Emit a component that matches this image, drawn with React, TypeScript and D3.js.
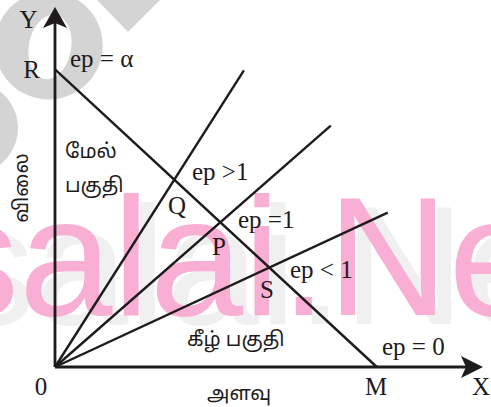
import React from "react";
import * as d3 from "d3";

const W = 491;
const H = 407;

// axis extents in data units
const xDomain = [0, 13.3];
const yDomain = [0, 12.1];

// demand line R -> M
const pointR = [0, 10];
const pointM = [10, 0];

// rays from origin (end points)
const rayEnds = [
  [5.87, 9.97],
  [8.57, 8.11],
  [10.34, 5.19],
];

// latin labels [text, x, y, anchor]
const serifLabels: [string, number, number, string][] = [
  ["Y", -0.823, 11.4, "middle"],
  ["R", -0.73, 9.71, "middle"],
  ["ep = \u03b1", 0.466, 10.08, "start"],
  ["ep >1", 4.257, 6.286, "start"],
  ["Q", 3.791, 5.143, "middle"],
  ["ep =1", 5.687, 4.672, "start"],
  ["P", 4.879, 3.765, "start"],
  ["ep < 1", 7.303, 2.992, "start"],
  ["S", 6.37, 2.319, "start"],
  ["ep = 0", 10.162, 0.403, "start"],
  ["0", -0.435, -0.941, "middle"],
  ["M", 9.975, -0.941, "middle"],
  ["X", 13.238, -0.941, "middle"],
];

// tamil labels [text, x, y]
const tamilLabels: [string, number, number][] = [
  ["மேல்", 0.311, 7.025],
  ["பகுதி", 0.311, 5.882],
  ["கீழ் பகுதி", 4.102, 0.706],
  ["அளவு", 4.723, -1.109],
];
const yAxisTitle = "விலை";
const yAxisTitlePos = [-0.994, 6.017];

const watermark = "salai.Net";

export default function App() {
  const x = d3.scaleLinear().domain(xDomain).range([55, 483]);
  const y = d3.scaleLinear().domain(yDomain).range([367, 7]);
  const ink = "#1e1b1c";
  const serif = "'Liberation Serif', 'Times New Roman', serif";
  const tamil = "'Noto Sans Tamil', 'Lohit Tamil', 'Latha', 'Noto Sans', sans-serif";

  const line = d3.line<number[]>().x((d) => x(d[0])).y((d) => y(d[1]));

  const ox = x(0), oy = y(0);
  const yTipX = x(0), yTipY = y(yDomain[1]);
  const xTipX = x(xDomain[1]), xTipY = y(0);

  const yArrow = `M${yTipX},${yTipY} L${yTipX + 12},${yTipY + 21} L${yTipX},${yTipY + 16} L${yTipX - 12},${yTipY + 21} Z`;
  const xArrow = `M${xTipX},${xTipY} L${xTipX - 22},${xTipY - 11} L${xTipX - 17},${xTipY} L${xTipX - 22},${xTipY + 11} Z`;

  return (
    <svg width={W} height={H} style={{ position: "absolute", left: 0, top: 0, background: "#fff" }}>
      {/* gray watermark shapes */}
      <g fill="#d4d4d4">
        <path
          fillRule="evenodd"
          d={`M${50 - 54},45 a54,54 0 1,0 108,0 a54,54 0 1,0 -108,0 Z
              M50,47 m-26,0 a26,17 -40 1,0 52,0 a26,17 -40 1,0 -52,0 Z`}
          transform="rotate(-40 50 47)"
        />
        <polygon points="97,0 128,32 160,0" />
        <circle cx={-28} cy={128} r={46} />
      </g>
      {/* watermark text */}
      <text x={-49} y={324} fontFamily="'Liberation Sans', Arial, sans-serif" fontSize={168} fill="#f0f0f0">
        {watermark}
      </text>
      <text x={-65} y={315} fontFamily="'Liberation Sans', Arial, sans-serif" fontSize={168} fill="#f9aed4">
        {watermark}
      </text>

      {/* axes */}
      <line x1={ox} y1={oy} x2={yTipX} y2={yTipY + 14} stroke={ink} strokeWidth={2.8} />
      <line x1={ox} y1={oy} x2={xTipX - 14} y2={xTipY} stroke={ink} strokeWidth={2.8} />
      <path d={yArrow} fill={ink} />
      <path d={xArrow} fill={ink} />

      {/* demand line */}
      <path d={line([pointR, pointM]) || ""} stroke={ink} strokeWidth={2.4} fill="none" />
      {/* rays */}
      {rayEnds.map((e, i) => (
        <path key={i} d={line([[0, 0], e]) || ""} stroke={ink} strokeWidth={2.4} fill="none" />
      ))}

      {serifLabels.map(([t, lx, ly, a], i) => (
        <text key={i} x={x(lx)} y={y(ly)} textAnchor={a} fontFamily={serif} fontSize={25} fill={ink}>
          {t}
        </text>
      ))}
      {tamilLabels.map(([t, lx, ly], i) => (
        <text key={i} x={x(lx)} y={y(ly)} fontFamily={tamil} fontSize={20} fill={ink}>
          {t}
        </text>
      ))}
      <text
        x={0}
        y={0}
        transform={`translate(${x(yAxisTitlePos[0])},${y(yAxisTitlePos[1])}) rotate(-90)`}
        textAnchor="middle"
        dominantBaseline="central"
        fontFamily={tamil}
        fontSize={20}
        fill={ink}
      >
        {yAxisTitle}
      </text>
    </svg>
  );
}
